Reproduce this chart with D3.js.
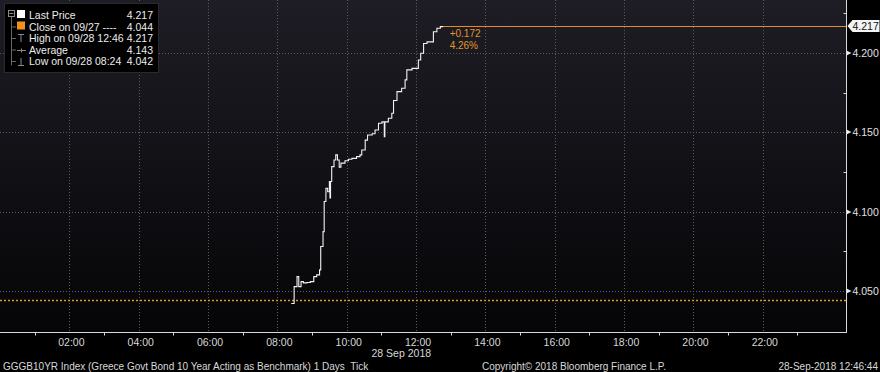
<!DOCTYPE html>
<html>
<head>
  <meta charset="UTF-8">
  <script src="https://d3js.org/d3.v7.min.js"></script>
  <title>GGGB10YR Index</title>
  <style type="text/css">
    html, body { margin:0; padding:0; background:#000; }
    svg { display:block; font-family:"Liberation Sans", Arial, sans-serif; }
  </style>
</head>
<body>
<script>
  // intraday ticks, 28 Sep 2018 (time, yield)
  var tickTimes = ["08:24","08:29","08:34","08:37","08:41","08:45","08:51","08:57","09:03","09:08",
    "09:13","09:15","09:19","09:21","09:24","09:27","09:30","09:31","09:32","09:34","09:38","09:41",
    "09:44","09:47","09:50","09:57","10:03","10:09","10:17","10:23","10:26","10:32","10:36","10:44",
    "10:49","10:55","11:01","11:05","11:06","11:08","11:12","11:18","11:21","11:27","11:35","11:41",
    "11:44","11:53","12:04","12:08","12:13","12:19","12:30","12:36","12:42","12:46"];
  var tickValues = [4.042,4.0526,4.0589,4.0526,4.0558,4.0550,4.0552,4.0558,4.0589,4.0600,
    4.0632,4.0779,4.0873,4.1063,4.1147,4.1125,4.1189,4.1086,4.1189,4.1283,4.1325,4.1357,
    4.1325,4.1280,4.1305,4.1320,4.1330,4.1335,4.1346,4.1357,4.1388,4.1450,4.1483,4.1490,
    4.1514,4.1557,4.1565,4.1472,4.1565,4.1565,4.1588,4.1620,4.1700,4.1756,4.1777,4.1830,
    4.1893,4.1903,4.1956,4.1998,4.2060,4.2070,4.2134,4.2156,4.2166,4.217];

  var prevClose = 4.044;
  var lastPrice = 4.217;
  var changeLabels = ["+0.172", "4.26%"];
  var legendLabels = ["Last Price", "Close on 09/27 ---- ", "High on 09/28 12:46", "Average", "Low on 09/28 08:24"];
  var legendValues = ["4.217", "4.044", "4.217", "4.143", "4.042"];
  var yTicks = [4.050, 4.100, 4.150, 4.200];
  var yMinor = [4.075, 4.125, 4.175, 4.225];
  var xLabelHours = [2, 4, 6, 8, 10, 12, 14, 16, 18, 20, 22];
  var xMinorHours = [1, 3, 5, 7, 9, 11, 13, 15, 17, 19, 21, 23];

  var W = 880, H = 372;
  var plotW = 846, plotH = 332;
  var day = new Date(2018, 8, 28);
  function at(h, m) { return new Date(2018, 8, 28, h, m || 0); }
  var parse = d3.timeParse("%Y-%m-%d %H:%M");

  var data = tickTimes.map(function(t, i) {
    return { t: parse("2018-09-28 " + t), v: tickValues[i] };
  });

  var x = d3.scaleTime().domain([at(0), at(24, 24)]).range([0, plotW]);
  var y = d3.scaleLinear().domain([4.024, 4.2334]).range([plotH, 0]);

  var svg = d3.select("body").append("svg").attr("width", W).attr("height", H);

  var defs = svg.append("defs");
  var grad = defs.append("linearGradient").attr("id", "bg").attr("x1", 0).attr("y1", 0).attr("x2", 0).attr("y2", 1);
  grad.append("stop").attr("offset", "0%").attr("stop-color", "#1e1d25");
  grad.append("stop").attr("offset", "100%").attr("stop-color", "#050507");

  svg.append("rect").attr("width", W).attr("height", H).attr("fill", "#000");
  svg.append("rect").attr("width", plotW).attr("height", plotH).attr("fill", "url(#bg)");

  // grid
  svg.append("g").selectAll("line").data(yTicks).enter().append("line")
    .attr("x1", 0).attr("x2", plotW)
    .attr("y1", function(d) { return Math.round(y(d)) + 0.5; })
    .attr("y2", function(d) { return Math.round(y(d)) + 0.5; })
    .attr("stroke", function(d) { return d === 4.05 ? "#5a5a7a" : "#5c5c5c"; })
    .attr("stroke-dasharray", "1,2");

  svg.append("g").selectAll("line").data(xLabelHours).enter().append("line")
    .attr("x1", function(d) { return Math.round(x(at(d))) + 0.5; })
    .attr("x2", function(d) { return Math.round(x(at(d))) + 0.5; })
    .attr("y1", 0).attr("y2", plotH)
    .attr("stroke", "#5c5c5c")
    .attr("stroke-dasharray", "1,2");

  // previous close
  svg.append("line")
    .attr("x1", 0).attr("x2", plotW)
    .attr("y1", Math.round(y(prevClose)) + 0.5).attr("y2", Math.round(y(prevClose)) + 0.5)
    .attr("stroke", "#e0952f").attr("stroke-width", 1.3)
    .attr("stroke-dasharray", "2,2");

  // last price line to axis
  var last = data[data.length - 1];
  svg.append("line")
    .attr("x1", x(last.t)).attr("x2", plotW)
    .attr("y1", Math.round(y(lastPrice)) + 0.5).attr("y2", Math.round(y(lastPrice)) + 0.5)
    .attr("stroke", "#e8892a");

  // price line
  var line = d3.line()
    .x(function(d) { return x(d.t); })
    .y(function(d) { return y(d.v); })
    .curve(d3.curveStepAfter);

  svg.append("path").datum(data)
    .attr("d", line)
    .attr("fill", "none")
    .attr("stroke", "#f2f2f2")
    .attr("stroke-width", 1.1);

  // change annotation
  svg.selectAll(".chg").data(changeLabels).enter().append("text")
    .attr("x", x(last.t) + 7).attr("y", function(d, i) { return 37 + i * 12; })
    .attr("fill", "#e0962a").attr("font-size", 10)
    .text(function(d) { return d; });

  // right axis
  var yAxis = svg.append("g").attr("transform", "translate(" + (plotW + 0.5) + ",0)");
  yAxis.append("line").attr("y1", 0).attr("y2", plotH).attr("stroke", "#d8d8d8");
  yAxis.selectAll(".minor").data(yMinor).enter().append("line")
    .attr("x1", -3).attr("x2", 0)
    .attr("y1", function(d) { return Math.round(y(d)) + 0.5; })
    .attr("y2", function(d) { return Math.round(y(d)) + 0.5; })
    .attr("stroke", "#d8d8d8");
  var maj = yAxis.selectAll(".major").data(yTicks).enter().append("g")
    .attr("transform", function(d) { return "translate(0," + Math.round(y(d)) + ")"; });
  maj.append("path").attr("d", "M0,-2.5L5,0L0,2.5Z").attr("fill", "#e8e8e8");
  maj.append("text").attr("x", 6).attr("y", 4).attr("font-size", 10.5).attr("fill", "#e0e0e0")
    .text(function(d) { return d3.format(".3f")(d); });

  // last price tag
  var tag = yAxis.append("g").attr("transform", "translate(0," + Math.round(y(lastPrice)) + ")");
  tag.append("path").attr("d", "M1,0L6,-6L33,-6L33,6L6,6Z").attr("fill", "#f4f4f4");
  tag.append("text").attr("x", 6).attr("y", 4).attr("font-size", 10.5).attr("fill", "#111")
    .text(d3.format(".3f")(lastPrice));

  // bottom axis
  var xAxis = svg.append("g").attr("transform", "translate(0," + (plotH + 0.5) + ")");
  xAxis.append("line").attr("x1", 0).attr("x2", plotW + 1).attr("stroke", "#d8d8d8");
  xAxis.selectAll(".minor").data(xMinorHours).enter().append("line")
    .attr("x1", function(d) { return Math.round(x(at(d))) + 0.5; })
    .attr("x2", function(d) { return Math.round(x(at(d))) + 0.5; })
    .attr("y1", 0).attr("y2", 3)
    .attr("stroke", "#d8d8d8");
  xAxis.selectAll("text").data(xLabelHours).enter().append("text")
    .attr("x", function(d) { return x(at(d)) + 2; })
    .attr("y", 13)
    .attr("text-anchor", "middle")
    .attr("font-size", 10.5).attr("fill", "#d8d8d8")
    .text(function(d) { return d3.timeFormat("%H:%M")(at(d)); });
  xAxis.append("text").attr("x", x(at(12)) + 15).attr("y", 24)
    .attr("text-anchor", "end").attr("font-size", 10.5).attr("fill", "#d8d8d8")
    .text(d3.timeFormat("%-d %b %Y")(day));

  // footer
  svg.append("text").attr("x", 3).attr("y", 370).attr("font-size", 10).attr("fill", "#d8d8d8")
    .attr("xml:space", "preserve")
    .text("GGGB10YR Index (Greece Govt Bond 10 Year Acting as Benchmark) 1 Days  Tick");
  svg.append("text").attr("x", 482).attr("y", 370).attr("font-size", 10).attr("fill", "#d8d8d8")
    .text("Copyright\u00a9 2018 Bloomberg Finance L.P.");
  svg.append("text").attr("x", 878).attr("y", 370).attr("text-anchor", "end")
    .attr("font-size", 10).attr("fill", "#d8d8d8")
    .text("28-Sep-2018 12:46:44");

  // legend
  var lg = svg.append("g");
  lg.append("rect").attr("x", 4.5).attr("y", 3.5).attr("width", 154).attr("height", 69)
    .attr("fill", "#000").attr("stroke", "#2a2a2a");
  var rowY = function(i) { return 19 + i * 11.5; };
  // tree
  lg.append("rect").attr("x", 8.5).attr("y", 10.5).attr("width", 6).attr("height", 6)
    .attr("fill", "none").attr("stroke", "#8a8a8a");
  lg.append("line").attr("x1", 9.5).attr("x2", 13.5).attr("y1", 13.5).attr("y2", 13.5).attr("stroke", "#8a8a8a");
  lg.append("line").attr("x1", 11.5).attr("x2", 11.5).attr("y1", 17).attr("y2", 65.5).attr("stroke", "#666");
  [1, 2, 3, 4].forEach(function(i) {
    lg.append("line").attr("x1", 11.5).attr("x2", 16).attr("y1", rowY(i) - 3.5).attr("y2", rowY(i) - 3.5).attr("stroke", "#666");
  });
  lg.append("rect").attr("x", 17).attr("y", rowY(0) - 9).attr("width", 8).attr("height", 8).attr("fill", "#fff");
  lg.append("rect").attr("x", 17).attr("y", rowY(1) - 9).attr("width", 8).attr("height", 8).attr("fill", "#f0901e");
  // high icon
  lg.append("path").attr("d", "M18,34.5H24M21,34.5V42").attr("stroke", "#8a8a8a").attr("fill", "none");
  // average icon
  lg.append("path").attr("d", "M17,50.5H26M21.5,48.5V52.5").attr("stroke", "#8a8a8a").attr("fill", "none");
  // low icon
  lg.append("path").attr("d", "M18,65.5H24M21,58V65.5").attr("stroke", "#8a8a8a").attr("fill", "none");

  lg.selectAll(".lab").data(legendLabels).enter().append("text")
    .attr("x", 29).attr("y", function(d, i) { return rowY(i); })
    .attr("font-size", 10.5).attr("fill", "#ececec")
    .attr("xml:space", "preserve")
    .text(function(d) { return d; });
  lg.selectAll(".val").data(legendValues).enter().append("text")
    .attr("x", 153).attr("y", function(d, i) { return rowY(i); })
    .attr("text-anchor", "end")
    .attr("font-size", 10.5).attr("fill", "#ececec")
    .text(function(d) { return d; });
</script>
</body>
</html>
